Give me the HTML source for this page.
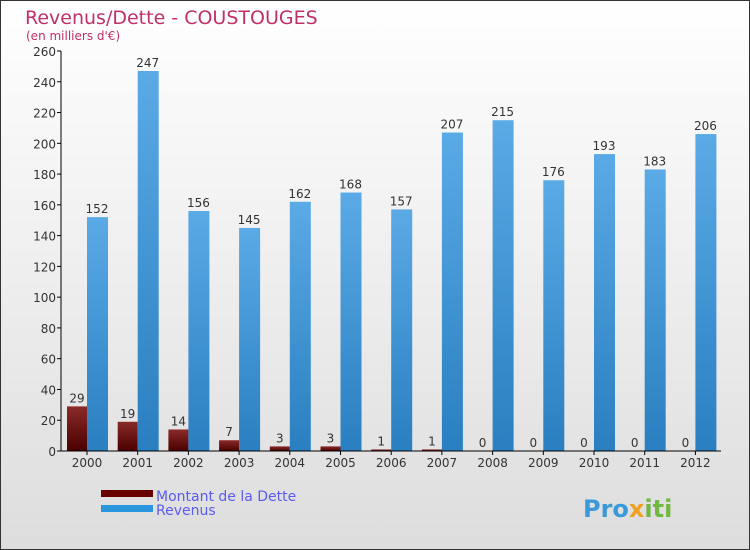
<!DOCTYPE html>
<html><head><meta charset="utf-8"><style>
body{margin:0}
#c{position:relative;width:748px;height:548px;border:1px solid #333;background:linear-gradient(#fff,#ddd);font-family:"DejaVu Sans","Liberation Sans",sans-serif;overflow:hidden}
text{font-family:"DejaVu Sans","Liberation Sans",sans-serif}
</style></head><body>
<div id="c">
<svg id="s" width="748" height="548">
<defs>
<linearGradient id="gd" x1="0" y1="0" x2="0" y2="1"><stop offset="0" stop-color="#8b2a2a"/><stop offset="1" stop-color="#4a0000"/></linearGradient>
<linearGradient id="gr" x1="0" y1="0" x2="0" y2="1"><stop offset="0" stop-color="#5aaae6"/><stop offset="1" stop-color="#2a7fc0"/></linearGradient>
</defs>
<text x="24" y="23" font-size="19" fill="#c0306a">Revenus/Dette - COUSTOUGES</text>
<text x="25" y="39" font-size="12" fill="#c0306a">(en milliers d'€)</text>
<g id="g"></g>
<rect x="100" y="489" width="52" height="7" fill="#6b0000"/>
<text x="155" y="500" font-size="14" fill="#5b5bef">Montant de la Dette</text>
<rect x="100" y="504" width="52" height="7" fill="#2a96de"/>
<text x="155" y="514" font-size="14" fill="#5b5bef">Revenus</text>
<text x="582" y="516" font-size="24" font-weight="bold" fill="#3a9ad9">Pro<tspan fill="#f0a020">x</tspan><tspan fill="#70b840">iti</tspan></text>
</svg>
</div>
<script>
const years=["2000","2001","2002","2003","2004","2005","2006","2007","2008","2009","2010","2011","2012"];
const dette=[29,19,14,7,3,3,1,1,0,0,0,0,0];
const revenus=[152,247,156,145,162,168,157,207,215,176,193,183,206];
const yTicks=[0,20,40,60,80,100,120,140,160,180,200,220,240,260];
const NS="http://www.w3.org/2000/svg";
const g=document.getElementById('g');
const y=v=>450-v*400/260;
const xc=i=>86+i*50.7;
function mk(t,a){const e=document.createElementNS(NS,t);for(const k in a)e.setAttribute(k,a[k]);g.appendChild(e);return e;}
yTicks.forEach(v=>{
 const l=mk('line',{x1:56,x2:60,y1:y(v),y2:y(v),stroke:'#000'});
 
 
 const t=mk('text',{x:55,y:y(v)+5,'text-anchor':'end','font-size':12,fill:'#333'});
 t.textContent=v;
 
 
});
years.forEach((yr,i)=>{
 const c=xc(i);
 const d=mk('rect',{x:c-20,y:y(dette[i]),width:20,height:450-y(dette[i]),fill:'url(#gd)'});
 
 
 const r=mk('rect',{x:c,y:y(revenus[i]),width:21,height:450-y(revenus[i]),fill:'url(#gr)'});
 
 
 const dl=mk('text',{x:c-10,y:y(dette[i])-4,'text-anchor':'middle','font-size':12,fill:'#333'});
 dl.textContent=dette[i];
 
 
 const rl=mk('text',{x:c+10,y:y(revenus[i])-4,'text-anchor':'middle','font-size':12,fill:'#333'});
 rl.textContent=revenus[i];
 
 
 const tk=mk('line',{x1:c,x2:c,y1:450,y2:454,stroke:'#000'});
 
 
 const xl=mk('text',{x:c,y:466,'text-anchor':'middle','font-size':12,fill:'#333'});
 xl.textContent=yr;
 
 
});
const ya=mk('line',{x1:60,x2:60,y1:50,y2:450,stroke:'#000'});


const xa=mk('line',{x1:60,x2:720,y1:450,y2:450,stroke:'#000'});


</script>
</body></html>
